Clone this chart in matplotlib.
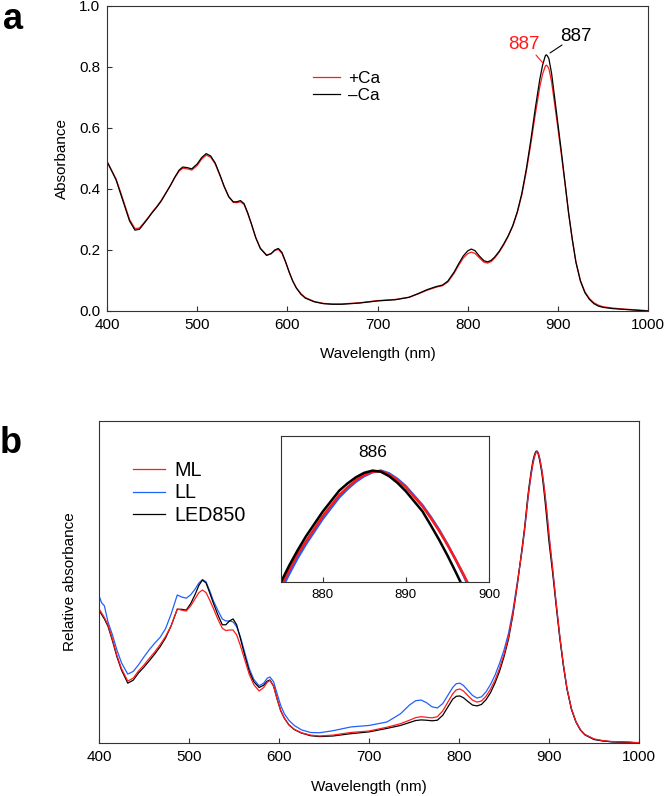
"""Absorption spectra: (a) +/- Ca, (b) normalized ML / LL / LED850 with peak inset."""
import matplotlib
matplotlib.use("Agg")
import matplotlib.pyplot as plt

plt.rcParams["font.family"] = ["Liberation Sans", "DejaVu Sans"]

# ---------------- panel a data ----------------
wl_a = [400, 405, 410, 415, 420, 425, 431, 436, 440, 445,
        450, 455, 460, 465, 470, 475, 480, 484, 489, 494,
        500, 505, 510, 515, 520, 525, 530, 535, 540, 544,
        548, 552, 556, 560, 565, 570, 577, 582, 586, 590,
        594, 598, 602, 606, 610, 615, 620, 630, 640, 650,
        660, 680, 700, 720, 735, 745, 755, 765, 772, 778,
        785, 790, 795, 800, 804, 808, 813, 818, 822, 826,
        830, 835, 840, 845, 850, 855, 860, 865, 870, 875,
        880, 883, 886, 887, 888, 890, 893, 896, 900, 904,
        908, 912, 916, 920, 925, 930, 935, 940, 945, 950,
        960, 970, 980, 990, 1000]

minus_ca = [0.490, 0.460, 0.430, 0.385, 0.340, 0.295, 0.265, 0.268, 0.283, 0.302,
            0.322, 0.340, 0.360, 0.385, 0.410, 0.438, 0.462, 0.472, 0.470, 0.466,
            0.482, 0.503, 0.516, 0.508, 0.485, 0.448, 0.408, 0.375, 0.358, 0.358,
            0.362, 0.352, 0.322, 0.287, 0.240, 0.205, 0.182, 0.188, 0.200, 0.205,
            0.192, 0.162, 0.128, 0.098, 0.075, 0.055, 0.042, 0.030, 0.024, 0.022,
            0.022, 0.026, 0.033, 0.037, 0.045, 0.057, 0.070, 0.080, 0.085, 0.098,
            0.128, 0.155, 0.180, 0.197, 0.203, 0.198, 0.180, 0.165, 0.161, 0.166,
            0.177, 0.196, 0.220, 0.247, 0.280, 0.325, 0.385, 0.465, 0.560, 0.665,
            0.760, 0.805, 0.836, 0.840, 0.838, 0.828, 0.780, 0.710, 0.615, 0.520,
            0.420, 0.320, 0.235, 0.160, 0.098, 0.060, 0.038, 0.024, 0.016, 0.012,
            0.008, 0.006, 0.004, 0.002, 0.000]

plus_ca = [0.490, 0.462, 0.433, 0.390, 0.345, 0.300, 0.270, 0.272, 0.286, 0.304,
           0.324, 0.342, 0.362, 0.386, 0.410, 0.436, 0.459, 0.468, 0.466, 0.462,
           0.477, 0.498, 0.511, 0.504, 0.482, 0.446, 0.407, 0.374, 0.356, 0.355,
           0.358, 0.349, 0.320, 0.286, 0.240, 0.206, 0.184, 0.188, 0.198, 0.202,
           0.189, 0.160, 0.127, 0.098, 0.076, 0.057, 0.044, 0.031, 0.025, 0.023,
           0.023, 0.027, 0.034, 0.038, 0.045, 0.056, 0.068, 0.078, 0.083, 0.095,
           0.124, 0.150, 0.173, 0.188, 0.193, 0.189, 0.174, 0.160, 0.157, 0.162,
           0.174, 0.193, 0.217, 0.245, 0.278, 0.322, 0.380, 0.457, 0.547, 0.645,
           0.735, 0.776, 0.802, 0.806, 0.804, 0.795, 0.752, 0.688, 0.600, 0.510,
           0.415, 0.318, 0.235, 0.162, 0.101, 0.063, 0.041, 0.027, 0.019, 0.014,
           0.010, 0.007, 0.005, 0.003, 0.001]

# ---------------- panel b data (normalized to Qy peak) ----------------
wl_b = [400, 403, 406, 410, 415, 420, 425, 432, 438, 444,
        450, 456, 462, 468, 474, 480, 487, 492, 497, 502,
        507, 511, 515, 519, 523, 527, 532, 537, 541, 545,
        549, 553, 557, 562, 567, 572, 578, 583, 587, 590,
        594, 598, 602, 606, 611, 617, 625, 635, 645, 660,
        680, 700, 720, 735, 745, 752, 758, 764, 770, 776,
        782, 788, 793, 797, 801, 805, 810, 815, 820, 825,
        830, 835, 840, 845, 850, 855, 860, 865, 870, 873,
        875, 876, 877, 878, 880, 882, 883, 884, 885, 886,
        887, 888, 889, 890, 892, 893, 894, 895, 896, 897,
        898, 900, 904, 908, 912, 916, 920, 925, 930, 935,
        940, 950, 960, 970, 980, 990, 1000]

ml = [0.460, 0.445, 0.430, 0.405, 0.355, 0.300, 0.255, 0.212, 0.222, 0.247,
      0.267, 0.290, 0.312, 0.337, 0.365, 0.400, 0.459, 0.455, 0.452, 0.470,
      0.495, 0.515, 0.524, 0.515, 0.490, 0.462, 0.425, 0.393, 0.385, 0.387,
      0.387, 0.370, 0.335, 0.285, 0.235, 0.200, 0.178, 0.190, 0.208, 0.214,
      0.195, 0.150, 0.110, 0.085, 0.063, 0.047, 0.035, 0.027, 0.024, 0.027,
      0.036, 0.041, 0.054, 0.066, 0.078, 0.087, 0.090, 0.088, 0.086, 0.090,
      0.110, 0.142, 0.168, 0.182, 0.185, 0.178, 0.162, 0.147, 0.140, 0.144,
      0.160, 0.184, 0.215, 0.255, 0.303, 0.362, 0.445, 0.548, 0.660, 0.735,
      0.792, 0.822, 0.850, 0.873, 0.918, 0.956, 0.970, 0.983, 0.992, 0.998,
      0.999, 0.993, 0.983, 0.970, 0.936, 0.915, 0.892, 0.867, 0.840, 0.812,
      0.782, 0.715, 0.600, 0.480, 0.368, 0.270, 0.188, 0.117, 0.073, 0.045,
      0.029, 0.014, 0.008, 0.005, 0.004, 0.003, 0.001]

ll = [0.505, 0.480, 0.470, 0.415, 0.370, 0.318, 0.275, 0.236, 0.245, 0.268,
      0.295, 0.320, 0.342, 0.362, 0.392, 0.440, 0.507, 0.500, 0.496, 0.508,
      0.528, 0.548, 0.560, 0.552, 0.522, 0.488, 0.455, 0.425, 0.418, 0.418,
      0.415, 0.398, 0.365, 0.310, 0.255, 0.218, 0.196, 0.205, 0.222, 0.226,
      0.210, 0.168, 0.128, 0.100, 0.078, 0.060, 0.045, 0.036, 0.035, 0.042,
      0.055, 0.060, 0.072, 0.100, 0.130, 0.145, 0.147, 0.138, 0.124, 0.120,
      0.135, 0.165, 0.190, 0.203, 0.205, 0.197, 0.180, 0.163, 0.154, 0.158,
      0.175, 0.200, 0.232, 0.272, 0.318, 0.375, 0.455, 0.555, 0.655, 0.728,
      0.785, 0.815, 0.843, 0.868, 0.913, 0.952, 0.967, 0.980, 0.990, 0.997,
      1.000, 0.995, 0.985, 0.972, 0.938, 0.917, 0.894, 0.868, 0.840, 0.810,
      0.778, 0.712, 0.598, 0.478, 0.366, 0.268, 0.187, 0.116, 0.072, 0.045,
      0.028, 0.013, 0.007, 0.004, 0.003, 0.002, 0.000]

led850 = [0.455, 0.440, 0.425, 0.400, 0.350, 0.295, 0.250, 0.205, 0.215, 0.240,
          0.260, 0.282, 0.305, 0.330, 0.360, 0.400, 0.458, 0.458, 0.455, 0.478,
          0.510, 0.540, 0.558, 0.548, 0.515, 0.480, 0.440, 0.405, 0.405, 0.418,
          0.425, 0.405, 0.360, 0.300, 0.245, 0.210, 0.190, 0.198, 0.212, 0.216,
          0.195, 0.150, 0.110, 0.085, 0.062, 0.046, 0.034, 0.025, 0.022, 0.024,
          0.032, 0.038, 0.050, 0.060, 0.070, 0.077, 0.079, 0.078, 0.076, 0.078,
          0.095, 0.125, 0.150, 0.160, 0.161, 0.155, 0.142, 0.130, 0.127, 0.132,
          0.148, 0.172, 0.205, 0.245, 0.295, 0.355, 0.440, 0.545, 0.665, 0.740,
          0.800, 0.830, 0.857, 0.882, 0.926, 0.964, 0.977, 0.988, 0.996, 1.000,
          0.998, 0.990, 0.978, 0.963, 0.927, 0.902, 0.876, 0.848, 0.818, 0.787,
          0.755, 0.690, 0.585, 0.470, 0.360, 0.265, 0.185, 0.115, 0.072, 0.044,
          0.028, 0.012, 0.007, 0.004, 0.003, 0.002, 0.000]

RED = "#ff1a1a"
BLUE = "#2060ff"
SPINE = "#333333"


def style_axes(ax, labelsize=11):
    for s in ax.spines.values():
        s.set_linewidth(0.8)
        s.set_color(SPINE)
    ax.tick_params(direction="in", length=3.3, width=0.8, colors=SPINE,
                   labelcolor="black", labelsize=labelsize, pad=5)


fig = plt.figure(figsize=(6.66, 7.96), dpi=100)

# --- a. absorbance with / without Ca
ax = fig.add_axes([0.1607, 0.6093, 0.8123, 0.3832])
ax.plot(wl_a, plus_ca, color=RED, lw=0.9, label="+Ca")
ax.plot(wl_a, minus_ca, color="black", lw=0.9, label="\u2013Ca")
ax.set_xlim(400, 1000)
ax.set_ylim(0, 1.0)
ax.set_xticks(range(400, 1001, 100))
ax.set_yticks([0.0, 0.2, 0.4, 0.6, 0.8, 1.0])
ax.set_yticklabels(["0.0", "0.2", "0.4", "0.6", "0.8", "1.0"])
style_axes(ax)
ax.set_xlabel("Wavelength (nm)", fontsize=11)
ax.set_ylabel("Absorbance", fontsize=11)
ax.xaxis.set_label_coords(0.5, -0.118)
ax.yaxis.set_label_coords(-0.070, 0.5)
ax.legend(loc="upper left", bbox_to_anchor=(0.381, 0.788), frameon=False,
          fontsize=12.3, borderaxespad=0, borderpad=0, handlelength=1.58,
          handletextpad=0.47, labelspacing=0.13)
ax.text(862.5, 0.875, "887", color=RED, fontsize=13.5, ha="center", va="center")
ax.text(920, 0.90, "887", color="black", fontsize=13.5, ha="center", va="center")
ax.annotate("", xy=(883.5, 0.813), xytext=(875.8, 0.839),
            arrowprops=dict(arrowstyle="-", color=RED, lw=0.8,
                            shrinkA=0, shrinkB=0))
ax.annotate("", xy=(891.3, 0.846), xytext=(904.6, 0.872),
            arrowprops=dict(arrowstyle="-", color="black", lw=0.8,
                            shrinkA=0, shrinkB=0))

# --- b. normalized spectra
ax = fig.add_axes([0.1486, 0.0666, 0.8108, 0.4045])
ax.plot(wl_b, ll, color=BLUE, lw=0.9, label="LL")
ax.plot(wl_b, led850, color="black", lw=0.9, label="LED850")
ax.plot(wl_b, ml, color=RED, lw=0.9, label="ML")
ax.set_xlim(400, 1000)
ax.set_ylim(0, 1.103)
ax.set_xticks(range(400, 1001, 100))
ax.set_yticks([])
style_axes(ax)
ax.set_xlabel("Wavelength (nm)", fontsize=11)
ax.set_ylabel("Relative absorbance", fontsize=11)
ax.xaxis.set_label_coords(0.5, -0.115)
ax.yaxis.set_label_coords(-0.041, 0.5)
h, l = ax.get_legend_handles_labels()
order = [l.index("ML"), l.index("LL"), l.index("LED850")]
ax.legend([h[i] for i in order], [l[i] for i in order], loc="upper left",
          bbox_to_anchor=(0.063, 0.876), frameon=False, fontsize=14.2,
          borderaxespad=0, borderpad=0, handlelength=1.62,
          handletextpad=0.46, labelspacing=0.18)

# inset: zoom on the Qy peak
axi = fig.add_axes([0.4219, 0.2688, 0.3123, 0.1834])
axi.plot(wl_b, ll, color=BLUE, lw=1.8)
axi.plot(wl_b, ml, color=RED, lw=1.8)
axi.plot(wl_b, led850, color="black", lw=1.8)
axi.set_xlim(875, 900)
axi.set_ylim(0.8, 1.062)
axi.set_xticks([880, 890, 900])
axi.set_yticks([])
style_axes(axi, labelsize=9.5)
axi.text(886, 0.884, "886", transform=axi.get_xaxis_transform(),
         fontsize=12.5, ha="center", va="center")

fig.text(0.004, 0.998, "a", fontsize=26, fontweight="bold", va="top")
fig.text(0.0, 0.465, "b", fontsize=26, fontweight="bold", va="top")

fig.savefig("out.png", dpi=100)
